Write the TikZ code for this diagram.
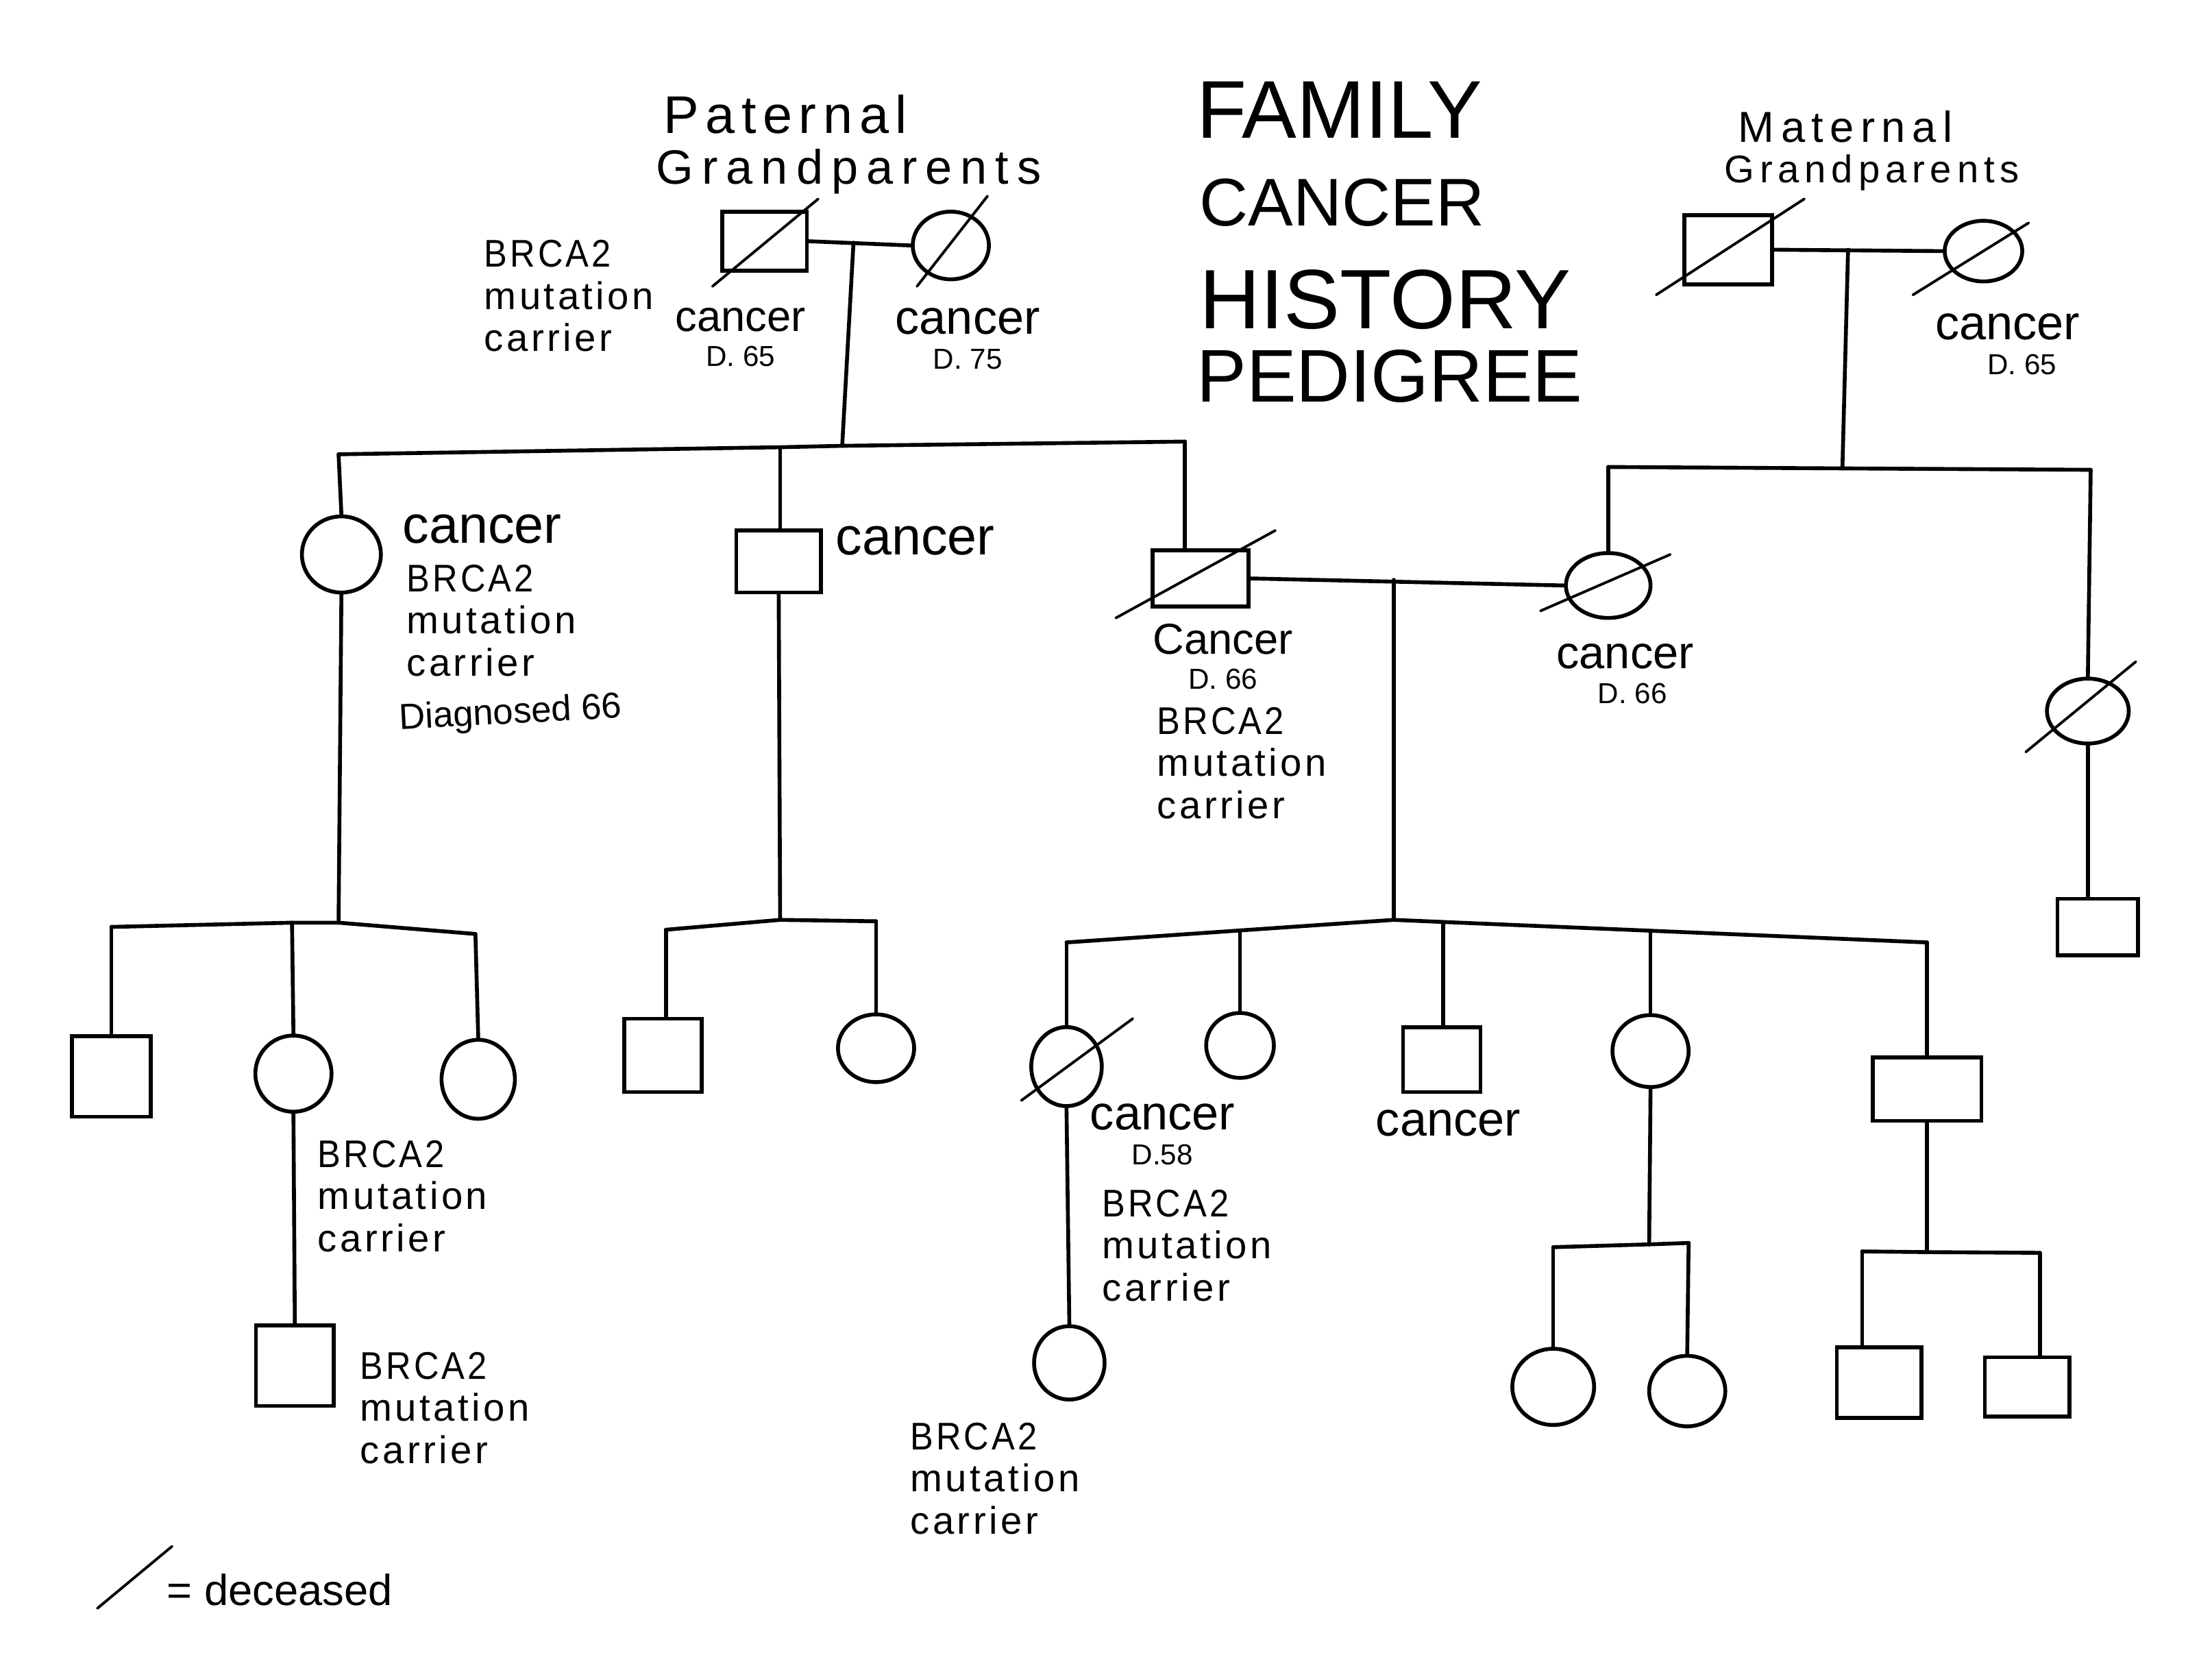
\documentclass[tikz,border=0pt]{standalone}
\usepackage{fontspec}
\setmainfont{Liberation Sans}
\usetikzlibrary{shapes.geometric}
\newcommand\mypx{0.020587cm}
\newcommand\brca{\scalebox{0.9}[1]{BRCA2}}
\newcommand\smallD[1]{{\fontsize{12}{12}\selectfont #1}}
\begin{document}
\begin{tikzpicture}[x=0.020587cm, y=-0.020587cm,
  ln/.style={line width=1.6pt, line cap=round, line join=round},
  sq/.style 2 args={draw, line width=1.6pt, rectangle, inner sep=0pt, minimum width=#1*\mypx, minimum height=#2*\mypx},
  ci/.style 2 args={draw, line width=1.6pt, ellipse, inner sep=0pt, minimum width=#1*\mypx, minimum height=#2*\mypx},
  dec/.style={line width=1.1pt, line cap=round},
  txt/.style={inner sep=0pt, anchor=base west, font=\fontsize{20}{22}\selectfont},
  cb/.style={inner sep=0pt, anchor=north west, align=left,
     font=\fontsize{16}{17.5}\selectfont\addfontfeatures{LetterSpace=8}},
  cd/.style={inner sep=0pt, anchor=north, align=center,
     font=\fontsize{#1}{14.5}\selectfont},
  ttl/.style={inner sep=0pt, anchor=base west, font=\fontsize{#1}{#1}\selectfont}]
\fill[white] (0,0) rectangle (1568,1180.4);
\useasboundingbox (0,0) rectangle (1568,1180.4);

% ---------- title ----------
\node[ttl=34] (t1) at (848,98) {FAMILY};
\node[ttl=28] (t2) at (850,160) {CANCER};
\node[ttl=35] (t3) at (850,233) {HISTORY};
\node[ttl=31] (t4) at (848,285) {PEDIGREE};

% ---------- paternal grandparents ----------
\node[inner sep=0pt, anchor=north west, align=left, font=\fontsize{20}{21}\selectfont] (ph) at (465,67)
  {\hspace*{2.9pt}{\fontsize{22}{22}\selectfont\addfontfeatures{LetterSpace=12.5}Paternal}\\
   {\addfontfeatures{LetterSpace=17}Grandparents}};
\node[sq={60}{42}] (gf) at (542,171) {};
\draw[dec] (gf.center) ++(-37,32) -- ++(75,-62);
\node[ci={54}{48}] (gm) at (674,174) {};
\draw[dec] (gm.center) ++(-24,29) -- ++(50,-64);
\draw[ln] (gf.east) -- (gm.west);
\coordinate (pm) at (605,172);
\node[cb] (gfl) at (343,170) {\brca\\mutation\\carrier};
\node[cd=18] (gfc) at (525,218) {cancer\\\smallD{D. 65}};
\node[cd=20] (gmc) at (686,218) {cancer\\\smallD{D. 75}};

% sibship of paternal grandparents
\coordinate (s1) at (240,322);
\coordinate (s2) at (553,317);
\coordinate (ps) at (597,316);
\coordinate (s3) at (840,313);
\draw[ln] (s1) -- (s2) -- (ps) -- (s3);
\draw[ln] (pm) -- (ps);

% aunt
\node[ci={56}{54}] (a1) at (242,393) {};
\draw[ln] (s1) -- (a1.north);
\node[txt, font=\fontsize{22}{24}\selectfont] (a1c) at (285,385) {cancer};
\node[cb] (a1l) at (288,400) {\brca\\mutation\\carrier};
\node[txt, font=\fontsize{15}{17}\selectfont, rotate=3] (a1d) at (283,517) {Diagnosed 66};

% uncle
\node[sq={60}{44}] (a2) at (552,398) {};
\draw[ln] (s2) -- (s2 |- a2.north);
\node[txt, font=\fontsize{22}{24}\selectfont] (a2c) at (592,393) {cancer};

% father
\node[sq={68}{40}] (a3) at (851,410) {};
\draw[dec] (a3.center) ++(-60,28) -- ++(113,-62);
\draw[ln] (s3) -- (s3 |- a3.north);
\node[cd=18] (a3c) at (867,442) {Cancer\\\smallD{D. 66}};
\node[cb] (a3l) at (820,501) {\brca\\mutation\\carrier};

% ---------- maternal grandparents ----------
\node[inner sep=0pt, anchor=north west, align=left, font=\fontsize{16}{17}\selectfont] (mh) at (1222,78)
  {\hspace*{5.8pt}{\fontsize{18}{18}\selectfont\addfontfeatures{LetterSpace=15}Maternal}\\
   {\addfontfeatures{LetterSpace=14}Grandparents}};
\node[sq={62}{49}] (mgf) at (1225,177) {};
\draw[dec] (mgf.center) ++(-51,32) -- ++(105,-68);
\node[ci={55}{43}] (mgm) at (1406,178) {};
\draw[dec] (mgm.center) ++(-50,31) -- ++(82,-51);
\draw[ln] (mgf.east) -- (mgm.west);
\coordinate (mm) at (1310,177);
\node[cd=20] (mgmc) at (1423,222) {cancer\\\hspace*{12pt}\smallD{D. 65}};

\coordinate (m1) at (1140,331);
\coordinate (ms) at (1306,332);
\coordinate (m2) at (1482,333);
\draw[ln] (m1) -- (ms) -- (m2);
\draw[ln] (mm) -- (ms);

% mother
\node[ci={60}{46}] (b1) at (1140,415) {};
\draw[dec] (b1.center) ++(-48,18) -- ++(92,-40);
\draw[ln] (m1) -- (b1.north);
\draw[ln] (a3.east) -- (b1.west);
\coordinate (fm) at (988,411);
\node[cd=19] (b1c) at (1152,456) {cancer\\\hspace*{6pt}\smallD{D. 66}};

% maternal aunt
\node[ci={58}{46}] (b2) at (1480,504) {};
\draw[dec] (b2.center) ++(-44,29) -- ++(78,-64);
\draw[ln] (m2) -- (b2.north);
\node[sq={57}{40}] (b3) at (1487,657) {};
\draw[ln] (b2.south) -- (b2.south |- b3.north);

% ---------- grandchildren: aunt's family ----------
\coordinate (ga1) at (79,657);
\coordinate (ga2) at (207,654);
\coordinate (gam) at (240,654);
\coordinate (ga3) at (337,662);
\draw[ln] (ga1) -- (ga2) -- (gam) -- (ga3);
\draw[ln] (a1.south) -- (gam);
\node[sq={56}{57}] (g1) at (79,763) {};
\draw[ln] (ga1) -- (ga1 |- g1.north);
\node[ci={54}{54}] (g2) at (208,761) {};
\draw[ln] (ga2) -- (g2.north);
\node[ci={52}{56}] (g3) at (339,765) {};
\draw[ln] (ga3) -- (g3.north);
\node[cb] (g2l) at (225,808) {\brca\\mutation\\carrier};
\node[sq={55}{57}] (gg1) at (209,968) {};
\draw[ln] (g2.south) -- (gg1.north);
\node[cb] (gg1l) at (255,958) {\brca\\mutation\\carrier};

% ---------- grandchildren: uncle's family ----------
\coordinate (gb1) at (472,659);
\coordinate (gbm) at (553,652);
\coordinate (gb2) at (621,653);
\draw[ln] (gb1) -- (gbm) -- (gb2);
\draw[ln] (a2.south) -- (gbm);
\node[sq={55}{52}] (g4) at (470,748) {};
\draw[ln] (gb1) -- (gb1 |- g4.north);
\node[ci={54}{48}] (g5) at (621,743) {};
\draw[ln] (gb2) -- (g5.north);

% ---------- grandchildren: parents' family ----------
\coordinate (gc1) at (756,668);
\coordinate (gc2) at (879,659.5);
\coordinate (gcm) at (988,652);
\coordinate (gc3) at (1023,653.5);
\coordinate (gc4) at (1170,659.7);
\coordinate (gc5) at (1366,668);
\draw[ln] (gc1) -- (gc2) -- (gcm) -- (gc3) -- (gc4) -- (gc5);
\draw[ln] (fm) -- (gcm);

\node[ci={50}{56}] (g6) at (756,756) {};
\draw[dec] (g6.center) ++(-32,24) -- ++(79,-58);
\draw[ln] (gc1) -- (g6.north);
\node[cd=20] (g6c) at (824,782) {cancer\\\smallD{D.58}};
\node[cb] (g6l) at (781,843) {\brca\\mutation\\carrier};
\node[ci={50}{52}] (gg2) at (758,966) {};
\draw[ln] (g6.south) -- (gg2.north);
\node[cb] (gg2l) at (645,1008) {\brca\\mutation\\carrier};

\node[ci={48}{46}] (g7) at (879,741) {};
\draw[ln] (gc2) -- (g7.north);

\node[sq={55}{46}] (g8) at (1022,751) {};
\draw[ln] (gc3) -- (gc3 |- g8.north);
\node[txt] (g8c) at (975,805) {cancer};

\node[ci={54}{51}] (g9) at (1170,745) {};
\draw[ln] (gc4) -- (g9.north);
\coordinate (gd1) at (1101,884);
\coordinate (gdm) at (1169,882);
\coordinate (gd2) at (1197,881);
\draw[ln] (gd1) -- (gdm) -- (gd2);
\draw[ln] (g9.south) -- (gdm);
\node[ci={58}{54}] (gg3) at (1101,983) {};
\draw[ln] (gd1) -- (gg3.north);
\node[ci={54}{50}] (gg4) at (1196,986) {};
\draw[ln] (gd2) -- (gg4.north);

\node[sq={77}{45}] (g10) at (1366,772) {};
\draw[ln] (gc5) -- (g10.north);
\coordinate (ge1) at (1320,887);
\coordinate (gem) at (1366,887.5);
\coordinate (ge2) at (1446,888);
\draw[ln] (ge1) -- (gem) -- (ge2);
\draw[ln] (g10.south) -- (gem);
\node[sq={60}{50}] (gg5) at (1332,980) {};
\draw[ln] (ge1) -- (ge1 |- gg5.north);
\node[sq={60}{42}] (gg6) at (1437,983) {};
\draw[ln] (ge2) -- (ge2 |- gg6.north);

% ---------- legend ----------
\coordinate (lg1) at (69,1140);
\coordinate (lg2) at (122,1096);
\draw[dec] (lg1) -- (lg2);
\node[txt, font=\fontsize{18}{20}\selectfont] (lgt) at (118,1138) {= deceased};
\end{tikzpicture}
\end{document}
